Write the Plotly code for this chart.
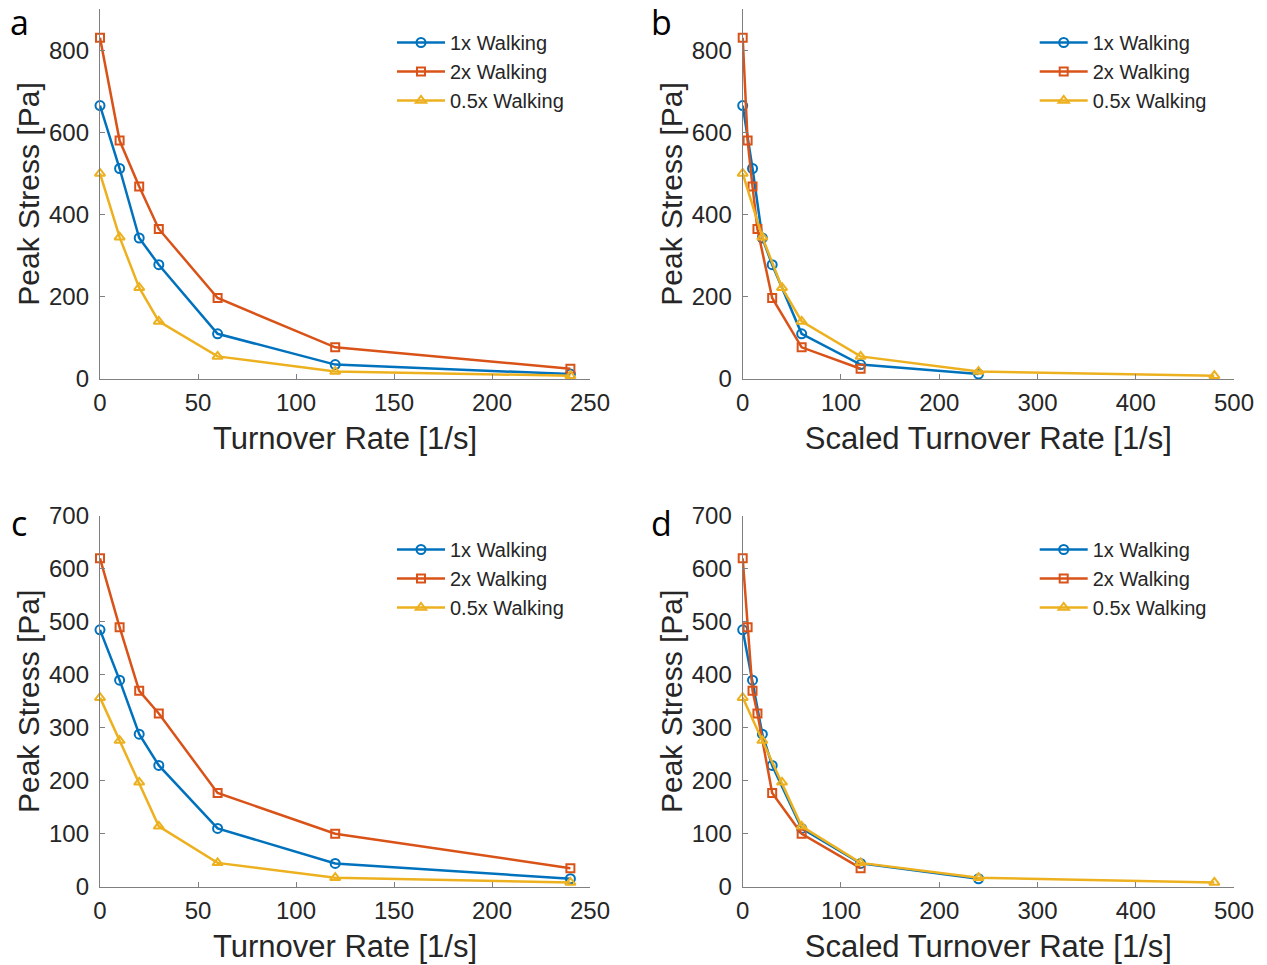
import plotly.graph_objects as go

# Turnover rates [1/s] used in the simulations
rate = [0, 10, 20, 30, 60, 120, 240]
# Scaled turnover rates for each walking speed
scaled_1x = [0, 10, 20, 30, 60, 120, 240]
scaled_2x = [0, 5, 10, 15, 30, 60, 120]
scaled_05x = [0, 20, 40, 60, 120, 240, 480]

# Peak stress [Pa], top row
stress_a_1x = [665, 512, 343, 278, 110, 35, 12]
stress_a_2x = [830, 580, 468, 365, 197, 77, 25]
stress_a_05x = [500, 345, 222, 140, 55, 18, 8]

# Peak stress [Pa], bottom row
stress_c_1x = [485, 390, 288, 229, 110, 44, 15]
stress_c_2x = [620, 490, 370, 327, 177, 100, 35]
stress_c_05x = [357, 276, 197, 114, 45, 17, 8]

series_names = ["1x Walking", "2x Walking", "0.5x Walking"]
colors = ["#0072BD", "#D95319", "#EDB120"]
symbols = ["circle-open", "square-open", "triangle-up-open"]
msizes = [9, 8, 9]

panel_letters = ["a", "b", "c", "d"]
letter_y = [22, 22, 523, 523]
x_titles = ["Turnover Rate [1/s]", "Scaled Turnover Rate [1/s]",
            "Turnover Rate [1/s]", "Scaled Turnover Rate [1/s]"]

W, H = 1267, 965
FONT = "Liberation Sans, Arial, sans-serif"
TXT = "#262626"
AX = "#808080"

# pixel boxes of the four plot areas: (left, right, top, bottom)
boxes = [(100, 590, 9, 379), (742.7, 1234, 9, 379),
         (100, 590, 516, 886.7), (742.7, 1234, 516, 886.7)]

panels = [
    ([rate, rate, rate], [stress_a_1x, stress_a_2x, stress_a_05x], [0, 250], [0, 900], 50, 200),
    ([scaled_1x, scaled_2x, scaled_05x], [stress_a_1x, stress_a_2x, stress_a_05x], [0, 500], [0, 900], 100, 200),
    ([rate, rate, rate], [stress_c_1x, stress_c_2x, stress_c_05x], [0, 250], [0, 700], 50, 100),
    ([scaled_1x, scaled_2x, scaled_05x], [stress_c_1x, stress_c_2x, stress_c_05x], [0, 500], [0, 700], 100, 100),
]

fig = go.Figure()
layout = dict(width=W, height=H, autosize=False,
              margin=dict(l=0, r=0, t=0, b=0),
              paper_bgcolor="white", plot_bgcolor="white",
              font=dict(family=FONT, color=TXT),
              annotations=[])

for i, (xs, ys, xr, yr, dx, dy) in enumerate(panels):
    k = "" if i == 0 else str(i + 1)
    leg = "legend" + k
    for j in range(3):
        fig.add_trace(go.Scatter(
            x=xs[j], y=ys[j], mode="lines+markers", name=series_names[j],
            line=dict(color=colors[j], width=2.5),
            marker=dict(symbol=symbols[j], size=msizes[j], color=colors[j],
                        line=dict(width=2, color=colors[j])),
            xaxis="x" + k, yaxis="y" + k, legend=leg, cliponaxis=False))
    l, r, t, b = boxes[i]
    axis_common = dict(showline=True, linecolor=AX, linewidth=1.3,
                       ticks="inside", ticklen=5, tickcolor=AX, tickwidth=1.3,
                       showgrid=False, zeroline=False, mirror=False,
                       automargin=False,
                       tickfont=dict(size=24, color=TXT, family=FONT))
    layout["xaxis" + k] = dict(axis_common, domain=[l / W, r / W], range=xr,
                               dtick=dx, tick0=0, anchor="y" + k,
                               ticklabelstandoff=2,
                               title=dict(text=x_titles[i], standoff=12,
                                          font=dict(size=31, color=TXT, family=FONT)))
    layout["yaxis" + k] = dict(axis_common, domain=[1 - b / H, 1 - t / H], range=yr,
                               dtick=dy, tick0=0, anchor="x" + k,
                               ticklabelstandoff=5,
                               title=dict(text="Peak Stress [Pa]", standoff=0,
                                          font=dict(size=30, color=TXT, family=FONT)))
    layout[leg] = dict(x=(l + 292) / W, y=1 - (t + 14) / H, xanchor="left", yanchor="top",
                       bgcolor="rgba(0,0,0,0)", borderwidth=0,
                       font=dict(size=20, color=TXT, family=FONT),
                       itemwidth=48, tracegroupgap=0)
    layout["annotations"].append(dict(
        text=panel_letters[i], xref="paper", yref="paper",
        x=(l - 81) / W, y=1 - letter_y[i] / H, xanchor="center", yanchor="middle",
        showarrow=False, font=dict(size=34, color="black", family="Open Sans, sans-serif")))

fig.update_layout(**layout)
fig.write_html("out.html")
